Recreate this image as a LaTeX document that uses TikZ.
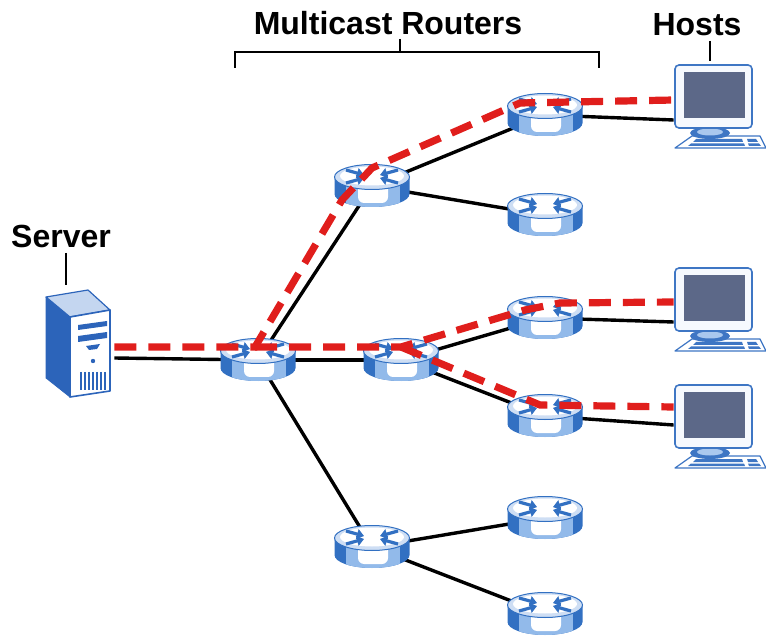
\documentclass[tikz,border=0pt]{standalone}
\usepackage{fontspec}
\setmainfont{Liberation Sans}
\usetikzlibrary{arrows.meta,calc,backgrounds}

\definecolor{mred}{RGB}{224,30,28}
\definecolor{rtblue}{RGB}{50,112,194}
\definecolor{rtpale}{RGB}{146,186,234}
\definecolor{rttop}{RGB}{206,222,244}
\definecolor{svblue}{RGB}{44,100,186}
\definecolor{svtop}{RGB}{196,214,240}
\definecolor{hsblue}{RGB}{62,118,196}
\definecolor{hspale}{RGB}{170,200,238}
\definecolor{hsframe}{RGB}{246,249,254}
\definecolor{hsscreen}{RGB}{92,104,136}

% router: blue cylinder with four arrows on top
\newcommand{\drawrouter}{%
  \fill[rtblue] (-37.5,-9) -- (-37.5,8) arc[start angle=180, end angle=0, x radius=37.5, y radius=13] -- (37.5,-9) -- cycle;
  \begin{scope}
    \clip (-37.5,-9) -- (-37.5,8) arc[start angle=180, end angle=0, x radius=37.5, y radius=13] -- (37.5,-9) -- cycle;
    \fill[rtpale] (-26,-9) rectangle (28,24);
    \fill[white, rounded corners=3pt] (-14,-9) rectangle (16,17);
  \end{scope}
  \filldraw[fill=rttop, draw=rtblue, line width=0.5pt] (0,-9) ellipse[x radius=37.5, y radius=12.5];
  \fill[white] (0,-10) ellipse[x radius=32, y radius=9.5];
  \foreach \sx in {-1,1} {
    \draw[rtarrow] (\sx*26,-16) -- (\sx*8,-11);
    \draw[rtarrow] (\sx*26,-3) -- (\sx*8,-8);
  }
}

% server: tower seen from the front left
\newcommand{\drawserver}{%
  \filldraw[fill=svblue, draw=svblue, line join=round] (-33,-47) -- (-9,-27) -- (-9,53) -- (-33,34) -- cycle;
  \filldraw[fill=svtop, draw=svblue, line width=0.6pt, line join=round] (-33,-47) -- (9,-54) -- (31,-34) -- (-9,-27) -- cycle;
  \filldraw[fill=white, draw=svblue, line width=0.8pt, line join=round] (-9,-27) -- (31,-34) -- (31,47) -- (-9,53) -- cycle;
  \fill[svblue] (-1,-19) -- (28,-23) -- (28,-18) -- (-1,-14) -- cycle;
  \fill[svblue] (-1,-8) -- (28,-12) -- (28,-6) -- (-1,-2) -- cycle;
  \fill[svblue] (7,2) -- (21,0) -- (18,5) -- (10,6) -- cycle;
  \fill[svblue] (14,17) circle[radius=2.2];
  \foreach \vx in {2,6,...,26} \draw[svblue, line width=0.9pt] (\vx,28) -- (\vx,46);
}

% host: monitor and keyboard
\newcommand{\drawhost}{%
  \filldraw[fill=white, draw=hsblue, line width=0.6pt, line join=round] (-28,29) -- (40,29) -- (46,41) -- (-45,41) -- cycle;
  \fill[hsblue] (-24,32) -- (22,32) -- (23,35) -- (-27,35) -- cycle;
  \fill[hsblue] (-29,36.5) -- (24,36.5) -- (25,39) -- (-32,39) -- cycle;
  \fill[hsblue] (27,32) -- (36,32) -- (38,35) -- (28,35) -- cycle;
  \fill[hsblue] (28,36.5) -- (39,36.5) -- (41,39) -- (29,39) -- cycle;
  \fill[hsblue] (-15,20) rectangle (-5,25);
  \fill[hsblue] (-10,26) ellipse[x radius=20, y radius=6];
  \fill[hspale] (-10,25) ellipse[x radius=13, y radius=3.5];
  \filldraw[fill=hsframe, draw=hsblue, line width=0.8pt, rounded corners=2pt] (-45,-42) rectangle (32,21);
  \fill[hsscreen] (-36,-35) rectangle (25,11);
}

\tikzset{
  router/.style={minimum width=38pt, minimum height=22pt, inner sep=0pt,
    path picture={\begin{scope}[shift={(path picture bounding box.center)}]\drawrouter\end{scope}}},
  server/.style={minimum width=35pt, minimum height=55pt, inner sep=0pt,
    path picture={\begin{scope}[shift={(path picture bounding box.center)}]\drawserver\end{scope}}},
  host/.style={minimum width=46pt, minimum height=44pt, inner sep=0pt,
    path picture={\begin{scope}[shift={(path picture bounding box.center)}]\drawhost\end{scope}}},
  rtarrow/.style={rtblue, line width=1.6pt, -{Triangle[length=3.5pt, width=5pt]}},
  link/.style={line width=1.7pt},
  mcast/.style={draw=mred, line width=3.6pt, dash pattern=on 11pt off 6pt},
  lbl/.style={font=\bfseries\fontsize{16}{19}\selectfont, inner sep=0pt},
  tick/.style={line width=1pt}
}

\begin{document}
\begin{tikzpicture}[x=0.5pt, y=-0.5pt]

  \useasboundingbox (0,0) rectangle (766,636);

  % Labels
  \node[lbl, anchor=base] (srvlabel)  at (61,248) {Server};
  \node[lbl, anchor=base] (mclabel)   at (388,35) {Multicast Routers};
  \node[lbl, anchor=base] (hostlabel) at (697,36) {Hosts};

  \draw[tick] ($(srvlabel.base)+(5,5)$) -- ($(srvlabel.base)+(5,37)$);
  \draw[tick] ($(hostlabel.base)+(13,5)$) -- ($(hostlabel.base)+(13,25)$);
  \draw[tick] (235,68) -- (235,52) -- (599,52) -- (599,68);
  \draw[tick] ($(mclabel.base)+(12,4)$) -- ($(mclabel.base)+(12,17)$);

  % Server and hosts
  \node[server] (server) at (79,344) {};
  \node[host] (h1) at (720,107) {};
  \node[host] (h2) at (720,310) {};
  \node[host] (h3) at (720,427) {};

  % Routers
  \node[router] (r1)  at (258,360) {};
  \node[router] (r2)  at (372,186) {};
  \node[router] (r3)  at (401,360) {};
  \node[router] (r4)  at (372,547) {};
  \node[router] (r5)  at (545,115) {};
  \node[router] (r6)  at (545,215) {};
  \node[router] (r7)  at (545,318) {};
  \node[router] (r8)  at (545,416) {};
  \node[router] (r9)  at (545,518) {};
  \node[router] (r10) at (545,614) {};

  % Links
  \begin{scope}[on background layer]
    \draw[link] ($(server.east)+(0,14)$) -- (r1.center);
    \foreach \a/\b in {r1/r2, r1/r3, r1/r4, r2/r5, r2/r6, r3/r7, r3/r8, r4/r9, r4/r10}
      \draw[link] (\a.center) -- (\b.center);
    \draw[link] (r5.center) -- ($(h1.west)+(0,13)$);
    \draw[link] (r7.center) -- ($(h2.west)+(0,12)$);
    \draw[link] (r8.center) -- ($(h3.west)+(0,-2)$);
  \end{scope}

  % Multicast traffic
  \draw[mcast] ($(server.east)+(0,3)$) -- ($(r1)+(-3,-13)$) -- ($(r2)+(-30,14)$)
    -- ($(r2)+(0,-18)$) -- ($(r5)+(-25,-12)$) -- ($(h1.west)+(0,-7)$);
  \draw[mcast] ($(r1)+(-3,-13)$) -- ($(r3)+(0,-13)$) -- ($(r7)+(-20,-8)$)
    -- ($(r7)+(15,-15)$) -- ($(h2.west)+(0,-8)$);
  \draw[mcast] ($(r3)+(0,-13)$) -- ($(r8)+(-5,-11)$) -- ($(h3.west)+(0,-20)$);

\end{tikzpicture}
\end{document}
